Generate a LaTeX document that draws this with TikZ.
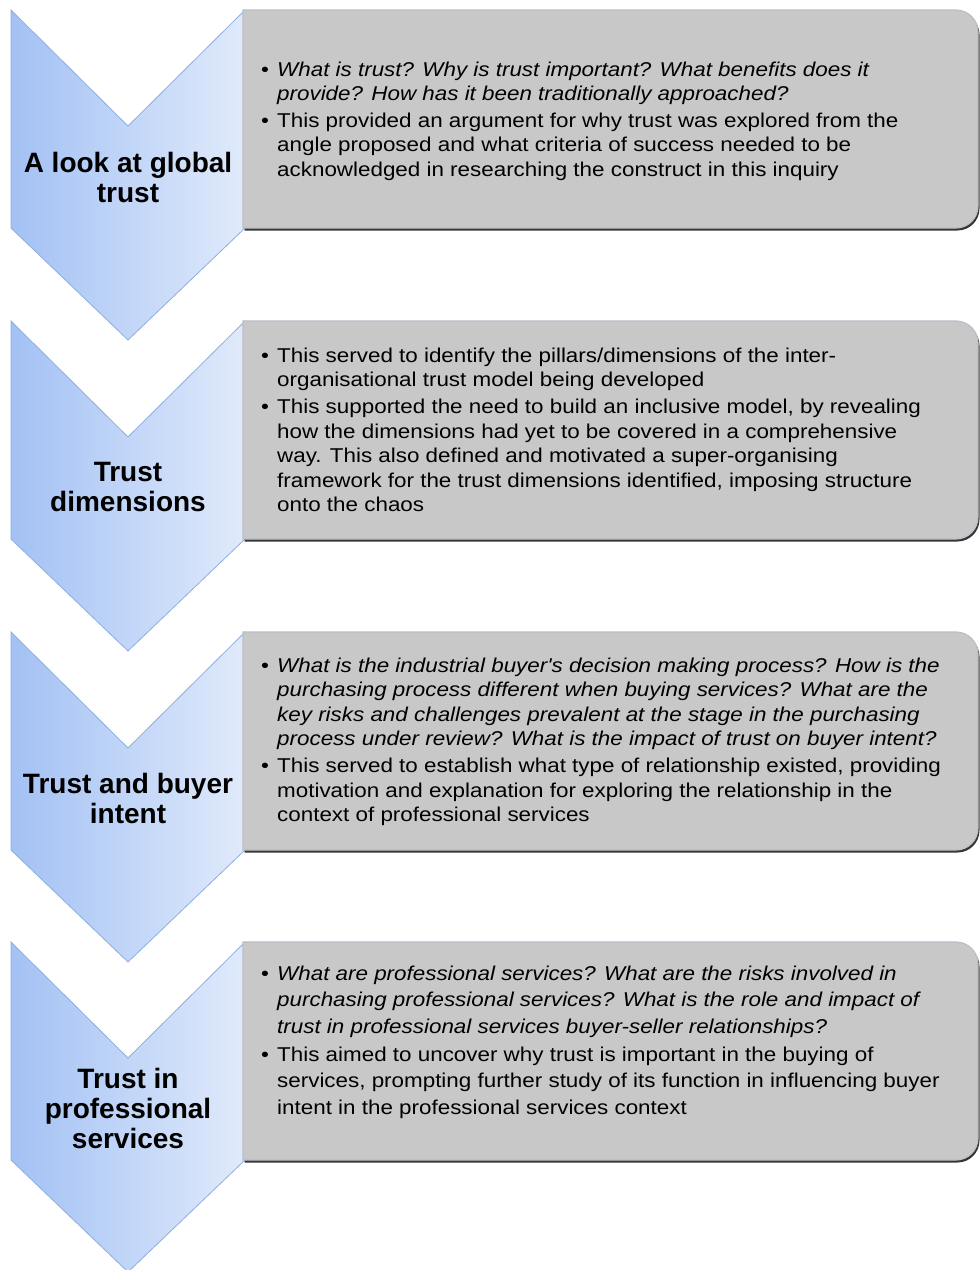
\documentclass[tikz,border=0pt]{standalone}
\usepackage{fontspec}
\setmainfont{Liberation Sans}
\newfontfamily\bodyfont[FakeStretch=1.12]{Liberation Sans}
\newfontfamily\bodyfontb[FakeStretch=1.12]{Liberation Sans}
\definecolor{chevL}{HTML}{A3C1F4}
\definecolor{chevR}{HTML}{E0EAFB}
\definecolor{chevD}{HTML}{8EAEE0}
\definecolor{boxc}{HTML}{C8C8C8}
\definecolor{shadowc}{HTML}{363636}
\definecolor{boxedge}{HTML}{B9C0C8}
\begin{document}
\begin{tikzpicture}[x=1pt,y=-1pt,
  chev/.style={left color=chevL, right color=chevR, draw=chevD, line width=0.8pt},
  boxsh/.style={fill=shadowc},
  boxbg/.style={fill=boxc, draw=boxedge, line width=1.2pt},
  lbl/.style={font=\fontsize{28}{30}\selectfont\bfseries, align=center, inner sep=0pt, text=black},
  itm/.style={font=\bodyfont\fontsize{20}{24.5}\selectfont, align=left, inner sep=0pt, anchor=north west},
  itmb/.style={font=\bodyfontb\fontsize{20}{26.5}\selectfont, align=left, inner sep=0pt, anchor=north west}]
\useasboundingbox (0,0) rectangle (980,1270);
\fill[white] (0,0) rectangle (980,1270);
% chevrons
\foreach \T in {10,321,632,942} {
  \path[chev] (11,\T) -- (128,\T+116) -- (245,\T) -- (245,\T+218) -- (128,\T+330) -- (11,\T+218) -- cycle;
}
% boxes
\foreach \T in {10,321,632,942} {
  \begin{scope}[shift={(1.5,2.5)}]
    \path[boxsh] (243,\T) -- (956,\T) arc[start angle=-90, end angle=0, radius=22] -- (978,\T+196) arc[start angle=0, end angle=90, radius=22] -- (243,\T+218) -- cycle;
  \end{scope}
  \path[boxbg] (243,\T) -- (956,\T) arc[start angle=-90, end angle=0, radius=22] -- (978,\T+196) arc[start angle=0, end angle=90, radius=22] -- (243,\T+218) -- cycle;
}
% labels
\node[lbl] (l1) at (128,177) {A look at global\\trust};
\node[lbl] (l2) at (128,487) {Trust\\dimensions};
\node[lbl] (l3) at (128,798) {Trust and buyer\\intent};
\node[lbl] (l4) at (128,1108) {Trust in\\professional\\services};
% box 1
\node[itm] (t1a) at (261,61.6) {\makebox[16pt][l]{\textbullet}\textit{What is trust? Why is trust important? What benefits does it}\\\hspace*{16pt}\textit{provide? How has it been traditionally approached?}};
\node[itm] (t1b) at (261,112.6) {\makebox[16pt][l]{\textbullet}This provided an argument for why trust was explored from the\\\hspace*{16pt}angle proposed and what criteria of success needed to be\\\hspace*{16pt}acknowledged in researching the construct in this inquiry};
% box 2
\node[itm] (t2a) at (261,347.6) {\makebox[16pt][l]{\textbullet}This served to identify the pillars/dimensions of the inter-\\\hspace*{16pt}organisational trust model being developed};
\node[itm] (t2b) at (261,399.1) {\makebox[16pt][l]{\textbullet}This supported the need to build an inclusive model, by revealing\\\hspace*{16pt}how the dimensions had yet to be covered in a comprehensive\\\hspace*{16pt}way. This also defined and motivated a super-organising\\\hspace*{16pt}framework for the trust dimensions identified, imposing structure\\\hspace*{16pt}onto the chaos};
% box 3
\node[itm] (t3a) at (261,657.6) {\makebox[16pt][l]{\textbullet}\textit{What is the industrial buyer's decision making process? How is the}\\\hspace*{16pt}\textit{purchasing process different when buying services? What are the}\\\hspace*{16pt}\textit{key risks and challenges prevalent at the stage in the purchasing}\\\hspace*{16pt}\textit{process under review? What is the impact of trust on buyer intent?}};
\node[itm] (t3b) at (261,758.1) {\makebox[16pt][l]{\textbullet}This served to establish what type of relationship existed, providing\\\hspace*{16pt}motivation and explanation for exploring the relationship in the\\\hspace*{16pt}context of professional services};
% box 4
\node[itmb] (t4a) at (261,965.6) {\makebox[16pt][l]{\textbullet}\textit{What are professional services? What are the risks involved in}\\\hspace*{16pt}\textit{purchasing professional services? What is the role and impact of}\\\hspace*{16pt}\textit{trust in professional services buyer-seller relationships?}};
\node[itmb] (t4b) at (261,1046.6) {\makebox[16pt][l]{\textbullet}This aimed to uncover why trust is important in the buying of\\\hspace*{16pt}services, prompting further study of its function in influencing buyer\\\hspace*{16pt}intent in the professional services context};
\end{tikzpicture}
\end{document}
